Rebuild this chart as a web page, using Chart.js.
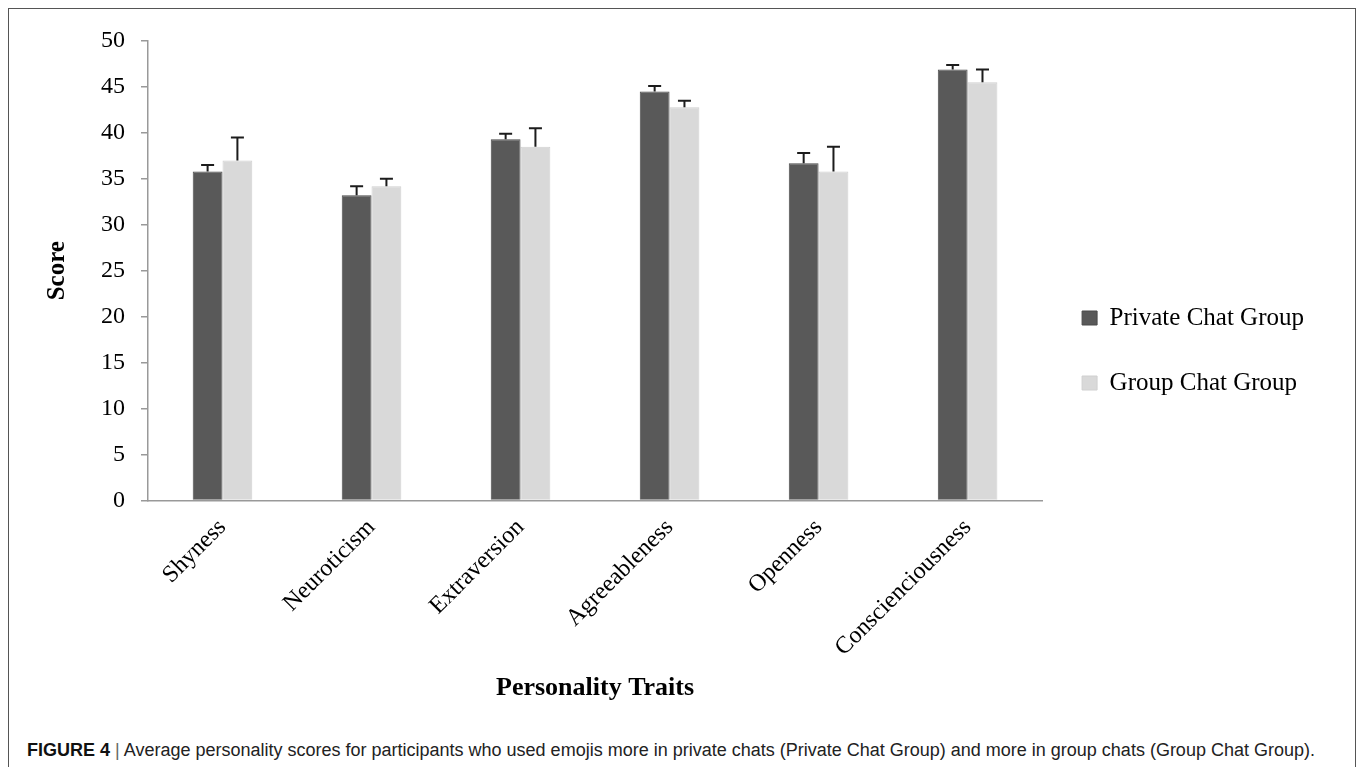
<!DOCTYPE html>
<html>
<head>
<meta charset="utf-8">
<script src="https://cdn.jsdelivr.net/npm/chart.js@4"></script>
<style>
  html, body { margin: 0; padding: 0; background: #fff; overflow: hidden; }
  body { width: 1358px; height: 767px; position: relative; }
  .frame {
    position: absolute; left: 8px; top: 8px; width: 1348px; height: 800px;
    border: 1px solid #555; box-sizing: border-box;
  }
  #wrap { position: absolute; left: 0; top: 0; width: 1358px; height: 730px; }
  .caption {
    position: absolute; left: 27px; top: 740px; white-space: nowrap;
    font-family: "Liberation Sans", Arial, sans-serif; font-size: 18px; color: #222;
  }
  .caption b { color: #111; }
  .caption .bar { color: #666; }
</style>
</head>
<body>
<div class="frame"></div>
<div id="wrap"><canvas id="chart"></canvas></div>
<div class="caption"><b>FIGURE 4</b> <span class="bar">|</span> Average personality scores for participants who used emojis more in private chats (Private Chat Group) and more in group chats (Group Chat Group).</div>
<script>
const TRAITS = ["Shyness", "Neuroticism", "Extraversion", "Agreeableness", "Openness", "Conscienciousness"];
const SERIES = ["Private Chat Group", "Group Chat Group"];
const PRIVATE_MEANS = [35.8, 33.2, 39.3, 44.5, 36.7, 46.9];
const PRIVATE_ERR = [0.7, 1.0, 0.6, 0.6, 1.1, 0.5];
const GROUP_MEANS = [37.0, 34.2, 38.5, 42.8, 35.8, 45.5];
const GROUP_ERR = [2.5, 0.8, 2.0, 0.7, 2.7, 1.4];
const Y_TICKS = [0, 5, 10, 15, 20, 25, 30, 35, 40, 45, 50];

const SERIF = "'Liberation Serif', 'Times New Roman', serif";

// upward error bars with a cap, placed with the y scale
const errorBars = {
  id: "errorBars",
  afterDatasetsDraw(chart) {
    const ctx = chart.ctx;
    const y = chart.scales.y;
    ctx.save();
    ctx.strokeStyle = "#1c1c1c";
    ctx.lineWidth = 2;
    chart.data.datasets.forEach((ds, i) => {
      chart.getDatasetMeta(i).data.forEach((bar, j) => {
        const top = y.getPixelForValue(ds.data[j] + ds.errors[j]);
        ctx.beginPath();
        ctx.moveTo(bar.x, bar.y);
        ctx.lineTo(bar.x, top);
        ctx.moveTo(bar.x - 6.5, top);
        ctx.lineTo(bar.x + 6.5, top);
        ctx.stroke();
      });
    });
    ctx.restore();
  }
};

const ctx = document.getElementById("chart");
new Chart(ctx, {
  type: "bar",
  data: {
    labels: TRAITS,
    datasets: [{
      label: SERIES[0],
      data: PRIVATE_MEANS,
      errors: PRIVATE_ERR,
      backgroundColor: "#595959",
      borderColor: "#4a4a4a",
      borderWidth: 1,
    }, {
      label: SERIES[1],
      data: GROUP_MEANS,
      errors: GROUP_ERR,
      backgroundColor: "#d9d9d9",
      borderColor: "#d0d0d0",
      borderWidth: 1,
    }]
  },
  options: {
    responsive: true,
    maintainAspectRatio: false,
    animation: false,
    datasets: { bar: { barPercentage: 1.0, categoryPercentage: 0.4 } },
    layout: { padding: { top: 0, bottom: 29, left: 43, right: 44 } },
    plugins: {
      // empty title used only as top spacing above the plot
      title: { display: true, text: "", font: { size: 10, lineHeight: 1 }, padding: { top: 31, bottom: 0 } },
      tooltip: { enabled: false },
      legend: {
        position: "right",
        align: "center",
        labels: {
          boxWidth: 15,
          boxHeight: 14,
          padding: 40,
          color: "#000",
          font: { family: SERIF, size: 25 },
        }
      }
    },
    scales: {
      x: {
        grid: { display: true, drawOnChartArea: false, drawTicks: false },
        border: { color: "#999", width: 1.5 },
        ticks: {
          color: "#000",
          font: { family: SERIF, size: 24 },
          minRotation: 45,
          maxRotation: 45,
          autoSkip: false,
          padding: 13,
        },
        title: {
          display: true,
          text: "Personality Traits",
          color: "#000",
          font: { family: SERIF, size: 26, weight: "bold", lineHeight: 1 },
          padding: { top: 0, bottom: 0 },
        }
      },
      y: {
        min: 0,
        max: 50,
        afterBuildTicks: axis => { axis.ticks = Y_TICKS.map(v => ({ value: v })); },
        grid: { drawOnChartArea: false, color: "#999", lineWidth: 1.5, tickLength: 7 },
        border: { color: "#999", width: 1.5 },
        ticks: {
          color: "#000",
          font: { family: SERIF, size: 24 },
          padding: 16,
        },
        title: {
          display: true,
          text: "Score",
          color: "#000",
          font: { family: SERIF, size: 25, weight: "bold" },
          padding: { top: 0, bottom: 12 },
        }
      }
    }
  },
  plugins: [errorBars]
});
</script>
</body>
</html>
